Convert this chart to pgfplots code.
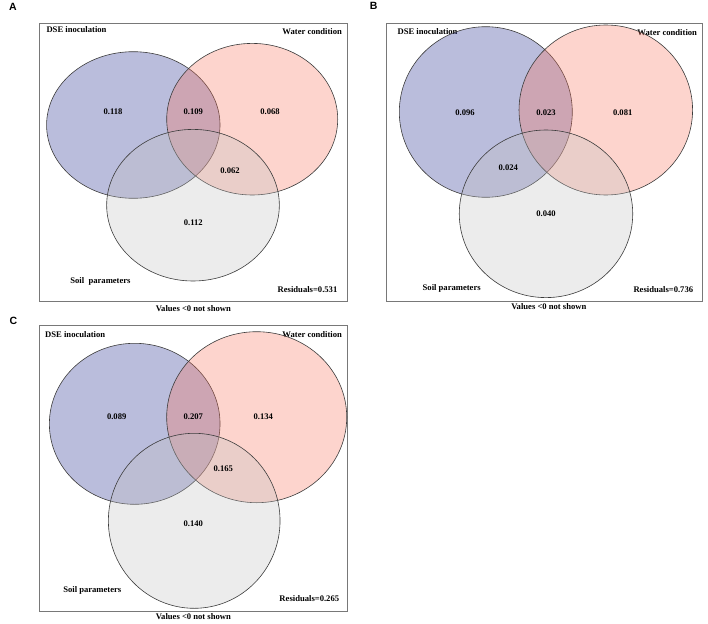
\documentclass[border=0pt]{standalone}
\usepackage{fontspec}
\setmainfont{Liberation Serif}
\newfontfamily\arialfont{Liberation Sans}
\usepackage{pgfplots}
\pgfplotsset{compat=1.18}
\definecolor{dsecol}{RGB}{28,35,138}
\definecolor{watcol}{RGB}{248,112,88}
\definecolor{soilcol}{RGB}{192,192,192}
\definecolor{edgecol}{RGB}{60,60,60}
\definecolor{boxcol}{RGB}{120,120,120}
\newcommand{\vfont}{\fontsize{8.6}{10}\selectfont\bfseries}
\tikzset{lab/.style={font=\vfont}}
\pgfplotsset{
  venn/.style={
    x=1pt, y=1pt, anchor=north west,
    axis line style={boxcol, line width=0.8pt},
    xtick=\empty, ytick=\empty,
    clip=false,
    xlabel={Values <0 not shown},
    xlabel style={font=\vfont, at={(rel axis cs:0.5,0)}, anchor=center, yshift=-6pt},
    title style={font=\arialfont\bfseries\fontsize{10.5}{12}\selectfont, at={(rel axis cs:0,1)}, anchor=center},
  },
  circ/.style n args={3}{only marks, mark=*, mark size=#2pt,
    mark options={xscale=#3, fill=#1, fill opacity=0.3, draw=edgecol, draw opacity=1, line width=0.6pt}},
  vals/.style={only marks, mark=none, nodes near coords, point meta=explicit symbolic,
    nodes near coords style={font=\vfont, anchor=center}},
}
\begin{document}
\begin{tikzpicture}
\path[use as bounding box] (0,0) rectangle (708pt,-623pt);

% ---------------- A ----------------
\begin{axis}[venn, at={(39pt,-23.3pt)}, xmin=39, xmax=347.7, ymin=-301.7, ymax=-23.3,
  title={A}, title style={xshift=-26pt, yshift=10pt}, xlabel style={yshift=-0.6pt}]
\addplot[circ={dsecol}{73.3}{1.183}] coordinates {(133.3,-125)};
\addplot[circ={watcol}{75.8}{1.128}] coordinates {(252.2,-119.2)};
\addplot[circ={soilcol}{75.8}{1.139}] coordinates {(193,-205.2)};
\addplot[vals] table[meta=lab] {
x y lab
113 -111.7 0.118
193.3 -111.7 0.109
270 -111.7 0.068
230 -171 0.062
193.3 -222.7 0.112
};
\node[lab, anchor=west] at (axis cs:43,-30) {DSE inoculation};
\node[lab, anchor=east] at (axis cs:345.5,-31.7) {Water condition};
\node[lab] at (axis cs:100.5,-281) {Soil\ \ parameters};
\node[lab] at (axis cs:307.5,-289.3) {Residuals=0.531};
\end{axis}

% ---------------- B ----------------
\begin{axis}[venn, at={(386.7pt,-23.3pt)}, xmin=386.7, xmax=702, ymin=-301.7, ymax=-23.3,
  title={B}, title style={xshift=-13pt, yshift=11pt}, xlabel style={xshift=4.5pt, yshift=1pt}]
\addplot[circ={dsecol}{85.3}{1.014}] coordinates {(485.8,-112)};
\addplot[circ={watcol}{85}{1.021}] coordinates {(605.8,-110)};
\addplot[circ={soilcol}{83.8}{1.035}] coordinates {(546,-213.8)};
\addplot[vals] table[meta=lab] {
x y lab
465 -112.3 0.096
546 -112.3 0.023
622.7 -112.3 0.081
508.3 -167.7 0.024
546 -213.3 0.040
};
\node[lab, anchor=west] at (axis cs:394,-31.7) {DSE inoculation};
\node[lab, anchor=east] at (axis cs:700.5,-33) {Water condition};
\node[lab] at (axis cs:451.7,-288.3) {Soil parameters};
\node[lab] at (axis cs:663.3,-290) {Residuals=0.736};
\end{axis}

% ---------------- C ----------------
\begin{axis}[venn, at={(39pt,-325pt)}, xmin=39, xmax=347.7, ymin=-611.7, ymax=-325,
  title={C}, title style={xshift=-25.7pt, yshift=-1.7pt}, xlabel style={yshift=1pt}]
\addplot[circ={dsecol}{80.5}{1.060}] coordinates {(134.7,-423.8)};
\addplot[circ={watcol}{85.5}{1.053}] coordinates {(256.7,-417.2)};
\addplot[circ={soilcol}{87.5}{0.981}] coordinates {(194.2,-520.8)};
\addplot[vals] table[meta=lab] {
x y lab
116.7 -416.7 0.089
193.3 -416.7 0.207
263.3 -416.7 0.134
223.3 -469 0.165
193.3 -523.3 0.140
};
\node[lab, anchor=west] at (axis cs:41.7,-335) {DSE inoculation};
\node[lab, anchor=east] at (axis cs:345.5,-335) {Water condition};
\node[lab] at (axis cs:92.3,-590.7) {Soil parameters};
\node[lab] at (axis cs:309.3,-598.3) {Residuals=0.265};
\end{axis}
\end{tikzpicture}
\end{document}
